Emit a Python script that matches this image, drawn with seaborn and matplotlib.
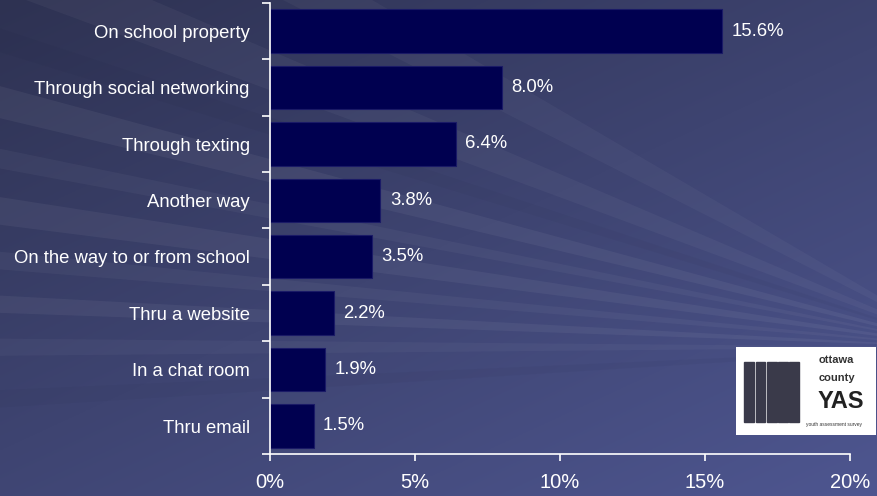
import numpy as np
import pandas as pd
import matplotlib
matplotlib.use("Agg")
import matplotlib.pyplot as plt
import seaborn as sns
from matplotlib.patches import Polygon, Rectangle

categories = ["On school property", "Through social networking", "Through texting",
              "Another way", "On the way to or from school", "Thru a website",
              "In a chat room", "Thru email"]
values = [15.6, 8.0, 6.4, 3.8, 3.5, 2.2, 1.9, 1.5]
xticks = [0, 5, 10, 15, 20]
xticklabels = ["0%", "5%", "10%", "15%", "20%"]

df = pd.DataFrame({"cat": categories, "val": values})

sns.set_theme(style="white")
plt.rcParams['font.family'] = ['Liberation Sans', 'DejaVu Sans']

fig = plt.figure(figsize=(8.78, 4.96), dpi=100)

# background gradient with rays
bg = fig.add_axes([0, 0, 1, 1], zorder=-10)
bg.set_axis_off()
yy, xx = np.mgrid[0:1:300j, 0:1:500j]
t = np.clip(0.45 * xx + 0.55 * yy, 0, 1)
c0 = np.array([0x2e, 0x32, 0x52]) / 255
c1 = np.array([0x4e, 0x56, 0x90]) / 255
img = c0[None, None, :] * (1 - t[..., None]) + c1[None, None, :] * t[..., None]
bg.imshow(img, extent=[0, 1, 0, 1], origin="upper", aspect="auto")
src = (1.10, 0.30)
# rays as (angle1, angle2, alpha) in degrees measured from +x axis
rays = [(152, 155, 0.05), (158, 160, 0.04), (163, 166, 0.05), (169, 171, 0.04),
        (174, 176, 0.05), (179, 181, 0.035), (185, 187, -0.04), (140, 144, 0.04),
        (147, 149, -0.04), (131, 135, 0.035)]
for a1, a2, alpha in rays:
    L = 3
    r1, r2 = np.radians(a1), np.radians(a2)
    pts = [src, (src[0] + L * np.cos(r1), src[1] + L * np.sin(r1) * 0.9),
           (src[0] + L * np.cos(r2), src[1] + L * np.sin(r2) * 0.9)]
    col = "white" if alpha > 0 else "#10122a"
    bg.add_patch(Polygon(pts, closed=True, facecolor=col, alpha=abs(alpha), lw=0))
bg.set_xlim(0, 1)
bg.set_ylim(0, 1)

ax = fig.add_axes([270 / 878, 42 / 496, 580 / 878, 451 / 496])
ax.patch.set_alpha(0)
sns.barplot(data=df, x="val", y="cat", ax=ax, color="#000050", width=0.77,
            saturation=1, edgecolor="#1a1a66", linewidth=0.8)

for i, v in enumerate(values):
    ax.text(v + 0.33, i, f"{v:.1f}%", va="center", ha="left", color="white", fontsize=13.3)

ax.set_xlim(0, 20)
ax.set_ylim(7.5, -0.5)
ax.set_xticks(xticks)
ax.set_xticklabels(xticklabels, fontsize=14.5, color="white")
ax.set_yticks(np.arange(-0.5, 8.0, 1.0))
ax.set_yticklabels([])
ax.tick_params(axis="y", which="major", length=6, color="white", width=1.2, left=True)
ax.tick_params(axis="x", length=5, color="white", width=1.2, bottom=True, pad=9)
for i, c in enumerate(categories):
    ax.text(-0.7, i + 0.04, c, ha="right", va="center", color="white", fontsize=13.3)
ax.set_xlabel("")
ax.set_ylabel("")
for s in ["top", "right"]:
    ax.spines[s].set_visible(False)
ax.spines["left"].set_color("white")
ax.spines["bottom"].set_color("white")
ax.spines["left"].set_linewidth(1.2)
ax.spines["bottom"].set_linewidth(1.2)

# logo
lg = fig.add_axes([736 / 878, (496 - 435) / 496, 140 / 878, 88 / 496])
lg.set_xlim(0, 1)
lg.set_ylim(0, 1)
lg.set_facecolor("white")
lg.set_xticks([])
lg.set_yticks([])
for s in lg.spines.values():
    s.set_visible(False)
for x0 in [0.06, 0.14, 0.22, 0.30, 0.38]:
    lg.add_patch(Rectangle((x0, 0.15), 0.07, 0.68, color="#3a3a4a"))
lg.text(0.72, 0.85, "ottawa", ha="center", va="center", fontsize=8, color="#333", weight="bold")
lg.text(0.72, 0.65, "county", ha="center", va="center", fontsize=8, color="#333", weight="bold")
lg.text(0.75, 0.38, "YAS", ha="center", va="center", fontsize=17, color="#222", weight="bold")
lg.text(0.7, 0.12, "youth assessment survey", ha="center", va="center", fontsize=3.5, color="#333")

fig.savefig("out.png", dpi=100)
